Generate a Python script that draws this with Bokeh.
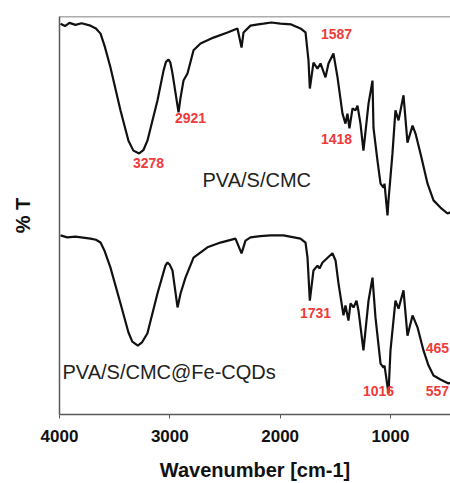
from bokeh.plotting import figure
from bokeh.models import Range1d, FixedTicker, ColumnDataSource, Span
from bokeh.core.properties import value
from bokeh.embed import file_html
from bokeh.resources import INLINE

# ---- data ----
wn_top = [3991, 3950, 3910, 3855, 3800, 3719, 3670, 3628, 3590, 3538, 3447, 3375, 3330, 3278, 3240,
          3203, 3112, 3057, 3035, 3012, 2995,
          2976, 2921, 2903, 2876, 2840, 2785, 2722, 2604, 2477, 2387, 2350, 2332, 2269, 2200, 2151,
          2080, 1997, 1900, 1816, 1770, 1743, 1731, 1698, 1662, 1634, 1589, 1562, 1517, 1480, 1435,
          1408, 1390, 1372, 1344, 1317, 1299, 1272, 1245, 1199, 1163, 1154, 1118, 1090, 1063, 1054,
          1027, 1018, 982, 955, 927, 882, 846, 800, 773, 728, 664, 610, 547, 483, 456]
t_top = [98.2, 97.6, 98.4, 97.9, 98.3, 97.7, 97.0, 95.7, 92.5, 87.2, 76.4, 68.8, 66.3, 65.6, 66.4,
         68.8, 78.9, 86.4, 88.6, 89.2, 88.4,
         85.7, 75.9, 79.6, 83.9, 85.7, 91.5, 93.2, 94.7, 96.0, 97.0, 92.2, 96.0, 97.7, 98.0, 98.2,
         98.5, 98.2, 98.0, 97.0, 96.0, 88.9, 81.9, 88.4, 86.9, 88.2, 84.7, 88.2, 90.7, 84.7, 75.6,
         73.1, 75.6, 71.9, 76.9, 76.4, 77.6, 73.1, 66.3, 78.1, 83.9, 72.0, 63.8, 58.0, 57.0, 58.0,
         50.0, 53.8, 65.6, 76.4, 73.9, 80.2, 68.3, 72.6, 70.6, 65.6, 58.0, 53.8, 52.0, 50.5, 50.8]

wn_bot = [3991, 3930, 3855, 3719, 3670, 3628, 3590, 3538, 3447, 3375, 3340, 3290, 3250, 3203, 3112,
          3040, 3021, 3000, 2976, 2930, 2903,
          2858, 2785, 2659, 2541, 2405, 2350, 2314, 2269, 2180, 2087, 1970, 1816, 1770, 1752, 1731,
          1698, 1662, 1643, 1616, 1526, 1498, 1471, 1426, 1408, 1381, 1362, 1335, 1308, 1290, 1245,
          1199, 1163, 1136, 1090, 1063, 1054, 1018, 1000, 955, 927, 882, 846, 800, 755, 701,
          655, 610, 547, 474, 456]
t_bot = [45.0, 44.5, 44.7, 44.2, 43.9, 43.2, 41.0, 36.9, 27.9, 20.6, 18.3, 17.3, 18.2, 20.4, 30.4,
         37.4, 38.2, 37.6, 36.2, 26.9, 30.4,
         34.4, 39.4, 42.0, 43.2, 44.2, 40.5, 43.7, 44.5, 44.8, 45.0, 45.0, 44.2, 43.2, 39.4, 28.6,
         36.2, 37.4, 36.7, 38.2, 40.5, 38.7, 32.9, 24.9, 27.4, 23.6, 27.9, 26.9, 28.6, 26.1, 16.1,
         28.6, 34.4, 24.4, 12.8, 11.8, 12.3, 5.3, 16.1, 28.6, 26.6, 31.2, 19.8, 24.9, 21.9, 16.1,
         12.3, 9.8, 8.8, 7.8, 8.0]

peak_text = ["3278", "2921", "1587", "1418", "1731", "1016", "465", "557"]
peak_x = [3193, 2813, 1489, 1489, 1680, 1109, 574, 574]
peak_y = [63.3, 74.4, 95.5, 69.1, 25.6, 6.0, 16.8, 6.0]

series_text = ["PVA/S/CMC", "PVA/S/CMC@Fe-CQDs"]
series_x = [2704, 3973]
series_y = [58.8, 10.6]

x_ticks = [4000, 3000, 2000, 1000]

FONT = "Liberation Sans"
AX = "#5a5a5a"

p = figure(width=450, height=483, output_backend="svg", toolbar_location=None,
           x_range=Range1d(4000, 456), y_range=Range1d(0, 100),
           min_border_left=59, min_border_right=0, min_border_top=16, min_border_bottom=69)
p.grid.visible = False
p.outline_line_color = None
p.background_fill_color = "white"
p.border_fill_color = "white"

p.add_layout(Span(location=100, dimension="width", line_color=AX, line_width=1.5))

p.line(wn_top, t_top, line_color="#111111", line_width=2.2)
p.line(wn_bot, t_bot, line_color="#111111", line_width=2.2)

src = ColumnDataSource(dict(x=peak_x, y=peak_y, t=peak_text))
p.text(x="x", y="y", text="t", source=src, text_font=value(FONT), text_font_style="bold",
       text_font_size="14px", text_color="#ee3b3b", text_align="center", text_baseline="middle")

src2 = ColumnDataSource(dict(x=series_x, y=series_y, t=series_text))
p.text(x="x", y="y", text="t", source=src2, text_font=value(FONT), text_font_size="20px",
       text_color="#222222", text_align="left", text_baseline="middle")

xa = p.xaxis[0]
xa.ticker = FixedTicker(ticks=x_ticks)
xa.minor_tick_line_color = None
xa.major_tick_out = 4
xa.major_tick_in = 0
xa.major_tick_line_color = AX
xa.axis_line_color = AX
xa.axis_line_width = 1.5
xa.major_label_text_font = FONT
xa.major_label_text_font_style = "bold"
xa.major_label_text_font_size = "17px"
xa.major_label_text_color = "#111111"
xa.major_label_standoff = 11
xa.axis_label = "Wavenumber [cm-1]"
xa.axis_label_text_font = FONT
xa.axis_label_text_font_style = "bold"
xa.axis_label_text_font_size = "20px"
xa.axis_label_text_color = "#111111"
xa.axis_label_standoff = 14

ya = p.yaxis[0]
ya.ticker = FixedTicker(ticks=[])
ya.minor_tick_line_color = None
ya.major_tick_line_color = None
ya.axis_line_color = AX
ya.axis_line_width = 1.5
ya.major_label_text_font_size = "0px"
ya.axis_label = "% T"
ya.axis_label_text_font = FONT
ya.axis_label_text_font_style = "bold"
ya.axis_label_text_font_size = "20px"
ya.axis_label_text_color = "#111111"
ya.axis_label_standoff = 26

open("out.html", "w").write(file_html(p, INLINE))
